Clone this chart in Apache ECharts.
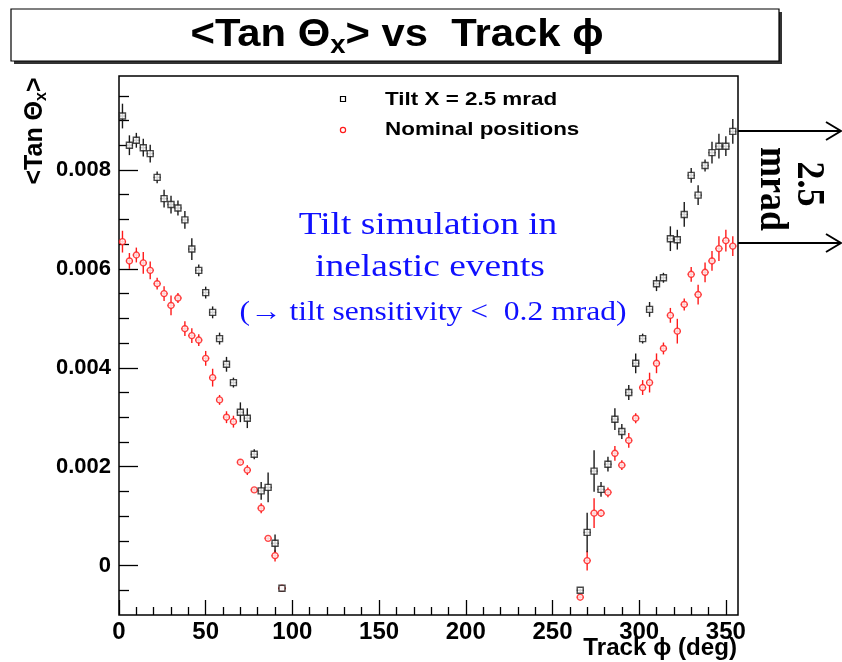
<!DOCTYPE html>
<html>
<head>
<meta charset="utf-8">
<title>Tan Theta x vs Track phi</title>
<script src="https://cdn.jsdelivr.net/npm/echarts@6/dist/echarts.min.js"></script>
<style>
    html, body {margin: 0; padding: 0; background: #fff;}
    #chart {width: 842px; height: 662px;}
</style>
</head>
<body>
<div id="chart"></div>
<script>
// track phi bin centres (deg)
var phiLeft = [2, 6, 10, 14, 18, 22, 26, 30, 34, 38, 42, 46, 50, 54, 58, 62, 66, 70, 74, 78, 82, 86, 90, 94];
var phiRight = [266, 270, 274, 278, 282, 286, 290, 294, 298, 302, 306, 310, 314, 318, 322, 326, 330, 334, 338, 342, 346, 350, 354];

// Tilt X = 2.5 mrad
var tiltLeft = [0.00909, 0.0085, 0.0086, 0.00845, 0.00833, 0.00785, 0.00742, 0.0073, 0.00723, 0.00699, 0.0064, 0.00597,
    0.00552, 0.00512, 0.00459, 0.00407, 0.0037, 0.0031, 0.00298, 0.00225, 0.00151, 0.00158, 0.00045, -0.00046];
var tiltLeftErr = [0.00025, 0.0002, 0.00015, 0.00018, 0.00018, 0.00012, 0.00018, 0.00018, 0.00015, 0.00018, 0.00022, 0.00012,
    0.00012, 0.00012, 0.00012, 0.00015, 0.0001, 0.0002, 0.0002, 0.0001, 0.00018, 0.0003, 0.00018, 0.00003];
var tiltRight = [-0.0005, 0.00067, 0.00191, 0.00154, 0.00205, 0.00296, 0.00271, 0.0035, 0.00409, 0.00459, 0.00518, 0.0057,
    0.00582, 0.00661, 0.00659, 0.0071, 0.00789, 0.00749, 0.00809, 0.00835, 0.00848, 0.00848, 0.00878];
var tiltRightErr = [0.00003, 0.0004, 0.00042, 0.00015, 0.00015, 0.00022, 0.00015, 0.00015, 0.0002, 0.0001, 0.00015, 0.00015,
    0.0001, 0.00025, 0.0002, 0.00025, 0.00015, 0.0002, 0.00012, 0.00022, 0.00025, 0.0002, 0.00025];

// Nominal positions
var nomLeft = [0.00655, 0.00616, 0.00628, 0.00612, 0.00597, 0.0057, 0.0055, 0.00526, 0.00541, 0.00479, 0.00465, 0.00456,
    0.00419, 0.0038, 0.00335, 0.003, 0.00291, 0.00209, 0.00193, 0.00153, 0.00116, 0.00055, 0.0002, -0.00046];
var nomLeftErr = [0.00022, 0.00016, 0.00015, 0.00022, 0.00018, 0.00012, 0.00015, 0.0002, 0.0001, 0.00015, 0.00015, 0.00012,
    0.00015, 0.00018, 0.0001, 0.00012, 0.00012, 0.00005, 0.0001, 0.00005, 0.0001, 0.00005, 0.00012, 0.00003];
var nomRight = [-0.00064, 0.0001, 0.00106, 0.00106, 0.00148, 0.00227, 0.00203, 0.00253, 0.00298, 0.0036, 0.0037, 0.00409,
    0.00439, 0.00506, 0.00474, 0.00528, 0.00589, 0.00548, 0.00593, 0.00616, 0.00641, 0.00657, 0.00646];
var nomRightErr = [0.00003, 0.0002, 0.0003, 0.00008, 0.0001, 0.00015, 0.0001, 0.00015, 0.0001, 0.00015, 0.0002, 0.0002,
    0.00012, 0.00015, 0.00025, 0.00012, 0.00015, 0.0002, 0.0002, 0.0002, 0.00025, 0.00022, 0.0002];

// axis ticks
var xTickLabels = [0, 50, 100, 150, 200, 250, 300, 350];
var xMinorTicks = [10, 20, 30, 40, 60, 70, 80, 90, 110, 120, 130, 140, 160, 170, 180, 190, 210, 220, 230, 240,
    260, 270, 280, 290, 310, 320, 330, 340];
var yTickLabels = [0, 0.002, 0.004, 0.006, 0.008];
var yMinorTicks = [-0.0005, 0.0005, 0.001, 0.0015, 0.0025, 0.003, 0.0035, 0.0045, 0.005, 0.0055,
    0.0065, 0.007, 0.0075, 0.0085, 0.009, 0.0095];

var HALF_BIN = 2;
var BOLD = 'Liberation Sans, Arial, sans-serif';
var SERIF = 'Liberation Serif, Times New Roman, serif';
var BLUE = '#1010ff';

function toPoints(xs, ys, es) {
    var out = [];
    for (var i = 0; i < xs.length; i++) {
        out.push([xs[i], ys[i], es[i]]);
    }
    return out;
}

function errorBars(color) {
    return function (params, api) {
        var x = api.value(0), y = api.value(1), e = api.value(2);
        var top = api.coord([x, y + e]), bot = api.coord([x, y - e]);
        var l = api.coord([x - HALF_BIN, y]), r = api.coord([x + HALF_BIN, y]);
        return {
            type: 'group',
            children: [
                {type: 'line', shape: {x1: top[0], y1: top[1], x2: bot[0], y2: bot[1]}, style: {stroke: color, lineWidth: 1.4}},
                {type: 'line', shape: {x1: l[0], y1: l[1], x2: r[0], y2: r[1]}, style: {stroke: color, lineWidth: 1.4}}
            ]
        };
    };
}

// plain text element, optionally stretched sideways like the original slide
function label(x, y, text, font, color, align, sx) {
    return {
        type: 'text', x: x, y: y, z: 12, scaleX: sx || 1,
        style: {text: text, align: align || 'center', verticalAlign: 'middle', font: font, fill: color || '#000'}
    };
}

var tiltData = toPoints(phiLeft, tiltLeft, tiltLeftErr).concat(toPoints(phiRight, tiltRight, tiltRightErr));
var nomData = toPoints(phiLeft, nomLeft, nomLeftErr).concat(toPoints(phiRight, nomRight, nomRightErr));

var chart = echarts.init(document.getElementById('chart'), null, {renderer: 'canvas'});

var axisX = function (showLabels) {
    return {
        type: 'value', min: 0, max: 357, position: 'bottom',
        axisLine: {show: false, onZero: false},
        splitLine: {show: false},
        axisTick: {
            show: true, inside: true, length: showLabels ? 15 : 8,
            customValues: showLabels ? xTickLabels : xMinorTicks,
            lineStyle: {color: '#000', width: 1.3}
        },
        axisLabel: {
            show: showLabels, customValues: xTickLabels, margin: 5,
            color: '#000', fontFamily: BOLD, fontWeight: 'bold', fontSize: 24
        }
    };
};
var axisY = function (showLabels) {
    return {
        type: 'value', min: -0.001, max: 0.0099, position: 'left',
        axisLine: {show: false, onZero: false},
        splitLine: {show: false},
        axisTick: {
            show: true, inside: true, length: showLabels ? 19 : 10,
            customValues: showLabels ? yTickLabels : yMinorTicks,
            lineStyle: {color: '#000', width: 1.3}
        },
        axisLabel: {
            show: showLabels, customValues: yTickLabels, margin: 8,
            color: '#000', fontFamily: BOLD, fontWeight: 'bold', fontSize: 22
        }
    };
};

var option = {
    backgroundColor: '#fff',
    animation: false,
    grid: {
        left: 119, top: 76, right: 104, bottom: 47,
        show: true, borderColor: '#000', borderWidth: 1.5, backgroundColor: 'transparent'
    },
    xAxis: [axisX(true), axisX(false)],
    yAxis: [axisY(true), axisY(false)],
    series: [
        {
            name: 'Nominal positions err', type: 'custom', renderItem: errorBars('#ff1a1a'),
            data: nomData, encode: {x: 0, y: 1}, z: 2
        },
        {
            name: 'Tilt X = 2.5 mrad err', type: 'custom', renderItem: errorBars('#1a1a1a'),
            data: tiltData, encode: {x: 0, y: 1}, z: 2
        },
        {
            name: 'Nominal positions', type: 'scatter', symbol: 'circle', symbolSize: 6,
            data: nomData, encode: {x: 0, y: 1}, z: 3,
            itemStyle: {color: '#fff', borderColor: '#ff1a1a', borderWidth: 1.4}
        },
        {
            name: 'Tilt X = 2.5 mrad', type: 'scatter', symbol: 'rect', symbolSize: 6,
            data: tiltData, encode: {x: 0, y: 1}, z: 3,
            itemStyle: {color: '#fff', borderColor: '#1a1a1a', borderWidth: 1.4}
        }
    ],
    graphic: [
        // title box with shadow
        {type: 'rect', shape: {x: 14, y: 12, width: 768, height: 52}, style: {fill: '#333'}, z: 10},
        {type: 'rect', shape: {x: 11, y: 9, width: 768, height: 52}, style: {fill: '#fff', stroke: '#000', lineWidth: 1.2}, z: 11},
        {
            type: 'text', x: 397, y: 36, z: 12, scaleX: 1.1,
            style: {
                text: '{a|<Tan Θ}{s|x}{a|> vs  Track ϕ}',
                align: 'center', verticalAlign: 'middle',
                rich: {
                    a: {fontFamily: BOLD, fontWeight: 'bold', fontSize: 38, fill: '#000', lineHeight: 46, verticalAlign: 'middle'},
                    s: {fontFamily: BOLD, fontWeight: 'bold', fontSize: 25, fill: '#000', lineHeight: 46, verticalAlign: 'bottom'}
                }
            }
        },
        // y axis title
        {
            type: 'text', x: 35, y: 131, rotation: Math.PI / 2, z: 12,
            style: {
                text: '{a|<Tan Θ}{s|x}{a|>}',
                align: 'center', verticalAlign: 'middle',
                rich: {
                    a: {fontFamily: BOLD, fontWeight: 'bold', fontSize: 25, fill: '#000', lineHeight: 30, verticalAlign: 'middle'},
                    s: {fontFamily: BOLD, fontWeight: 'bold', fontSize: 16, fill: '#000', lineHeight: 30, verticalAlign: 'bottom'}
                }
            }
        },
        // x axis title
        label(737, 649, 'Track ϕ (deg)', 'bold 23px ' + BOLD, '#000', 'right', 1.05),
        // legend
        {type: 'rect', shape: {x: 340.5, y: 96.5, width: 5, height: 5}, style: {fill: '#fff', stroke: '#000', lineWidth: 1.2}, z: 12},
        {type: 'circle', shape: {cx: 343, cy: 130, r: 2.6}, style: {fill: '#fff', stroke: '#ff1a1a', lineWidth: 1.2}, z: 12},
        label(385, 100, 'Tilt X = 2.5 mrad', 'bold 19px ' + BOLD, '#000', 'left', 1.18),
        label(385, 130, 'Nominal positions', 'bold 19px ' + BOLD, '#000', 'left', 1.18),
        // blue annotation
        label(428, 226, 'Tilt simulation in', '32px ' + SERIF, BLUE, 'center', 1.17),
        label(430, 268, 'inelastic events', '32px ' + SERIF, BLUE, 'center', 1.17),
        label(433, 313, '(→ tilt sensitivity <  0.2 mrad)', '27px ' + SERIF, BLUE, 'center', 1.17),
        // 2.5 mrad arrows
        {type: 'line', shape: {x1: 738, y1: 131, x2: 841, y2: 131}, style: {stroke: '#000', lineWidth: 2}, z: 12},
        {type: 'polyline', shape: {points: [[826, 122], [841, 131], [826, 140]]}, style: {stroke: '#000', lineWidth: 2, fill: null}, z: 12},
        {type: 'line', shape: {x1: 738, y1: 243, x2: 841, y2: 243}, style: {stroke: '#000', lineWidth: 2}, z: 12},
        {type: 'polyline', shape: {points: [[826, 234], [841, 243], [826, 252]]}, style: {stroke: '#000', lineWidth: 2, fill: null}, z: 12},
        {
            type: 'text', x: 808, y: 184, rotation: -Math.PI / 2, scaleY: 1.1, z: 12,
            style: {text: '2.5', align: 'center', verticalAlign: 'middle', font: 'bold 36px ' + SERIF, fill: '#000'}
        },
        {
            type: 'text', x: 771, y: 189, rotation: -Math.PI / 2, scaleY: 1.1, z: 12,
            style: {text: 'mrad', align: 'center', verticalAlign: 'middle', font: 'bold 36px ' + SERIF, fill: '#000'}
        }
    ]
};

chart.setOption(option);
</script>
</body>
</html>
